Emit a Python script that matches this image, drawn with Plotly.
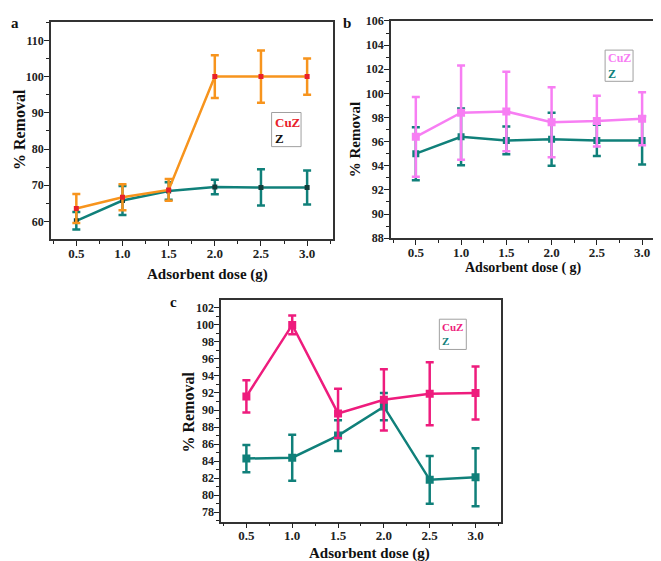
import plotly.graph_objects as go

W, H = 661, 561
FONT = "Liberation Serif, Times New Roman, serif"

doses = [0.5, 1.0, 1.5, 2.0, 2.5, 3.0]
tick_vals = [0.5, 1.0, 1.5, 2.0, 2.5, 3.0]
tick_text = ["0.5", "1.0", "1.5", "2.0", "2.5", "3.0"]

# Panel a
a_cuz = [63.6, 66.7, 68.7, 100.0, 100.0, 100.0]
a_cuz_err = [4.0, 3.6, 3.0, 5.9, 7.2, 5.0]
a_z = [60.2, 65.8, 68.4, 69.5, 69.4, 69.4]
a_z_err = [2.4, 4.0, 2.4, 2.0, 5.0, 4.7]

# Panel b
b_cuz = [96.4, 98.4, 98.5, 97.6, 97.7, 97.9]
b_cuz_err = [3.3, 3.9, 3.3, 2.9, 2.1, 2.2]
b_z = [95.0, 96.4, 96.1, 96.2, 96.1, 96.1]
b_z_err = [2.2, 2.35, 1.15, 2.2, 1.3, 2.0]

# Panel c
c_cuz = [91.6, 100.0, 89.6, 91.2, 91.9, 92.0]
c_cuz_err = [1.9, 1.1, 2.9, 3.6, 3.7, 3.1]
c_z = [84.3, 84.4, 87.0, 90.4, 81.8, 82.1]
c_z_err = [1.6, 2.7, 1.8, 1.6, 2.8, 3.4]

ORANGE = "#f7941d"
RED = "#e8202a"
TEAL = "#10807a"
DARK = "#123c3a"
VIOLET = "#f77ef3"
MAGENTA = "#ee1c7d"


def px(x):
    return x / W


def py(y):
    return 1 - y / H


fig = go.Figure()


def add_series(xa, ya, yv, err, color, mcolor, msize, lw=2.5):
    fig.add_trace(go.Scatter(
        x=doses, y=yv, mode="lines+markers",
        xaxis=xa, yaxis=ya,
        line=dict(color=color, width=lw),
        marker=dict(symbol="square", size=msize, color=mcolor),
        error_y=dict(type="data", array=err, visible=True, color=color,
                     thickness=2.5, width=4),
        showlegend=False,
    ))


add_series("x", "y", a_z, a_z_err, TEAL, DARK, 5)
add_series("x", "y", a_cuz, a_cuz_err, ORANGE, RED, 5)
add_series("x2", "y2", b_z, b_z_err, TEAL, TEAL, 7)
add_series("x2", "y2", b_cuz, b_cuz_err, VIOLET, VIOLET, 8)
add_series("x3", "y3", c_z, c_z_err, TEAL, TEAL, 8)
add_series("x3", "y3", c_cuz, c_cuz_err, MAGENTA, MAGENTA, 8)


def xaxis(domain, anchor):
    return dict(domain=domain, anchor=anchor, range=[0.225, 3.275],
                tickvals=tick_vals, ticktext=tick_text,
                ticks="outside", ticklen=5, tickwidth=1.2, tickcolor="#222",
                minor=dict(dtick=0.25, tick0=0.25, ticks="outside", ticklen=3, tickcolor="#222"),
                showline=True, linecolor="#333", linewidth=1.5, mirror=True,
                showgrid=False, zeroline=False, ticklabelstandoff=-4,
                ticklabeloverflow="allow",
                tickfont=dict(family=FONT, size=13, color="#222", weight="bold"))


def yaxis(domain, anchor, rng, dtick, minor):
    return dict(domain=domain, anchor=anchor, range=rng, dtick=dtick, tick0=0,
                ticks="outside", ticklen=5, tickwidth=1.2, tickcolor="#222",
                minor=dict(dtick=minor, ticks="outside", ticklen=3, tickcolor="#222"),
                showline=True, linecolor="#333", linewidth=1.5, mirror=True,
                showgrid=False, zeroline=False, ticklabelstandoff=-2,
                ticklabeloverflow="allow",
                tickfont=dict(family=FONT, size=12, color="#222", weight="bold"))


fig.update_layout(
    width=W, height=H,
    margin=dict(l=0, r=0, t=0, b=0),
    paper_bgcolor="white", plot_bgcolor="white",
    xaxis=xaxis([px(43), px(325)], "y"),
    yaxis=yaxis([py(230), py(7)], "x", [55.1, 115.1], 10, 5),
    xaxis2=xaxis([px(383.5), px(660)], "y2"),
    yaxis2=yaxis([py(229), py(6)], "x2", [87.99, 106.01], 2, 1),
    xaxis3=xaxis([px(213.5), px(493.5)], "y3"),
    yaxis3=yaxis([py(519.5), py(292.5)], "x3", [76.9, 102.9], 2, 1),
)


def txt(x, y, s, size, color="#111", angle=0, xanchor="center"):
    fig.add_annotation(x=px(x), y=py(y), xref="paper", yref="paper",
                       text=s, showarrow=False, textangle=angle,
                       xanchor=xanchor, yanchor="middle",
                       font=dict(family=FONT, size=size, color=color, weight="bold"))


# Panel labels
txt(7, 8, "a", 15)
txt(340, 8, "b", 15)
txt(166, 294, "c", 15)

# Axis titles
txt(11, 117, "% Removal", 16, angle=-90)
txt(200, 266, "Adsorbent dose (g)", 15)
txt(347, 128, "% Removal", 15, angle=-90)
txt(516, 259, "Adsorbent dose ( g)", 14)
txt(181, 407, "% Removal", 16, angle=-90)
txt(362, 552, "Adsorbent dose (g)", 15)


def legend_box(x0, y0, x1, y1, c1, c2, y_1, y_2, size):
    fig.add_shape(type="rect", xref="paper", yref="paper",
                  x0=px(x0), x1=px(x1), y0=py(y1), y1=py(y0),
                  line=dict(color="#a0a0a0", width=1), fillcolor="rgba(0,0,0,0)")
    txt(x0 + 1, y_1, "CuZ", size, color=c1, xanchor="left")
    txt(x0 + 1, y_2, "Z", size, color=c2, xanchor="left")


legend_box(264, 100, 293.5, 135, RED, "#111", 110, 127, 13)
legend_box(598, 36, 626, 68, VIOLET, TEAL, 44, 60, 12)
legend_box(432, 312, 459, 343, MAGENTA, TEAL, 320, 334, 11)

fig.write_html("out.html")
